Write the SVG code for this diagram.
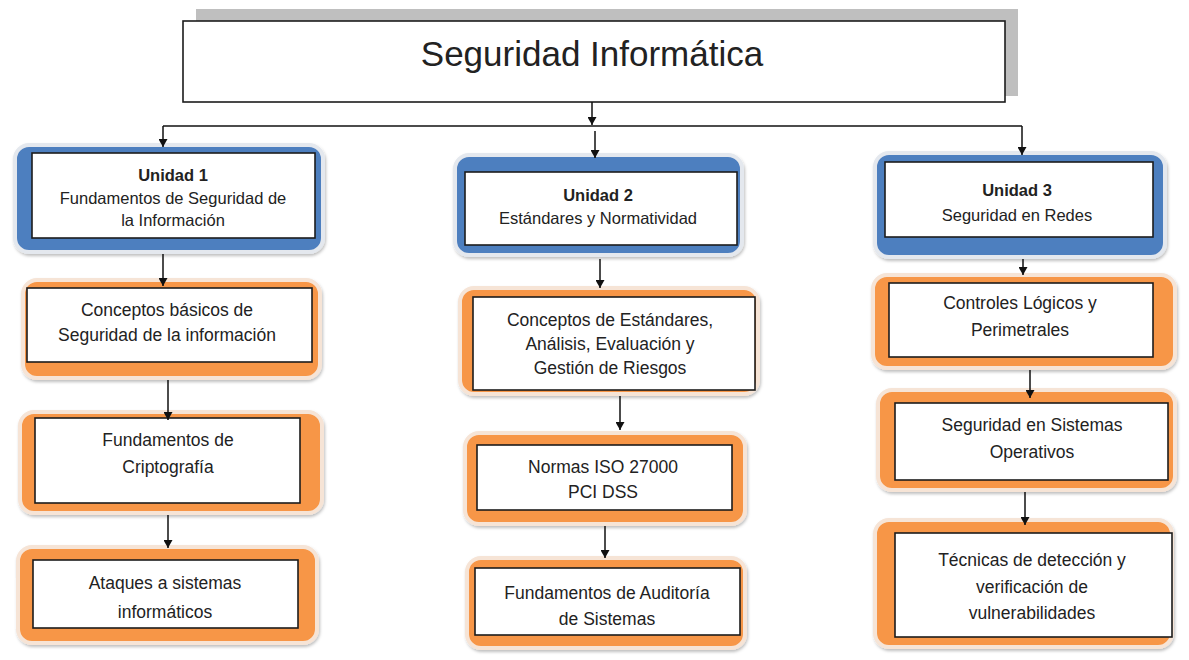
<svg xmlns="http://www.w3.org/2000/svg" width="1189" height="660" viewBox="0 0 1189 660">
<defs>
<marker id="arr" markerWidth="9" markerHeight="9" refX="8" refY="4.5" orient="auto" markerUnits="userSpaceOnUse"><path d="M0,0 L8,4.5 L0,9 z" fill="#111"/></marker>
<filter id="sh" x="-5%" y="-5%" width="110%" height="115%"><feDropShadow dx="1" dy="2" stdDeviation="1.5" flood-color="#000" flood-opacity="0.25"/></filter>
</defs>
<style>
.blue{fill:#4e7fbf;stroke:#e4e8ee;stroke-width:4;filter:url(#sh)}
.orange{fill:#f79646;stroke:#f6e4d6;stroke-width:4;filter:url(#sh)}
.inner{fill:#fff;stroke:#1c1c1c;stroke-width:1.6}
.t{font-family:"Liberation Sans",Arial,sans-serif;font-size:17.5px;fill:#222;text-anchor:middle}
.s{font-size:16.5px}
.b{font-weight:bold;font-size:16.5px}
.c{stroke:#111;stroke-width:1.5;fill:none}
</style>
<rect width="1189" height="660" fill="#fff"/>
<g id="title">
<rect x="196" y="9" width="822" height="87" fill="#bfbfbf"/>
<rect x="183" y="21" width="822" height="81" fill="#fff" stroke="#1c1c1c" stroke-width="1.6"/>
<text class="t" x="592" y="66" style="font-size:35px">Seguridad Informática</text>
</g>
<g id="unidad1">
<rect class="blue" x="15" y="145" width="308" height="107" rx="14"/>
<rect class="inner" x="32" y="153" width="283" height="85"/>
<text class="t b" x="173" y="181">Unidad 1</text>
<text class="t s" x="173" y="204">Fundamentos de Seguridad de</text>
<text class="t s" x="173" y="226">la Información</text>
</g>
<g id="conceptos-basicos">
<rect class="orange" x="23" y="280" width="297" height="98" rx="14"/>
<rect class="inner" x="27" y="288" width="285" height="74"/>
<text class="t" x="167" y="316">Conceptos básicos  de</text>
<text class="t" x="167" y="341">Seguridad de la información</text>
</g>
<g id="criptografia">
<rect class="orange" x="20" y="412" width="302" height="101" rx="14"/>
<rect class="inner" x="35" y="418" width="265" height="85"/>
<text class="t" x="168" y="446">Fundamentos de</text>
<text class="t" x="168" y="473">Criptografía</text>
</g>
<g id="ataques">
<rect class="orange" x="18" y="547" width="299" height="96" rx="14"/>
<rect class="inner" x="33" y="560" width="265" height="68"/>
<text class="t" x="165" y="589">Ataques a sistemas</text>
<text class="t" x="165" y="618">informáticos</text>
</g>
<g id="unidad2">
<rect class="blue" x="455" y="155" width="287" height="100" rx="14"/>
<rect class="inner" x="465" y="172" width="272" height="73"/>
<text class="t b" x="598" y="201">Unidad 2</text>
<text class="t s" x="598" y="224">Estándares y Normatividad</text>
</g>
<g id="conceptos-estandares">
<rect class="orange" x="460" y="288" width="298" height="106" rx="14"/>
<rect class="inner" x="473" y="297" width="282" height="93"/>
<text class="t" x="610" y="326">Conceptos de Estándares,</text>
<text class="t" x="610" y="350">Análisis, Evaluación y</text>
<text class="t" x="610" y="374">Gestión de Riesgos</text>
</g>
<g id="normas-iso">
<rect class="orange" x="465" y="433" width="280" height="91" rx="14"/>
<rect class="inner" x="477" y="445" width="255" height="65"/>
<text class="t" x="603" y="473">Normas ISO 27000</text>
<text class="t" x="603" y="498">PCI DSS</text>
</g>
<g id="auditoria">
<rect class="orange" x="467" y="558" width="278" height="90" rx="14"/>
<rect class="inner" x="475" y="568" width="265" height="67"/>
<text class="t" x="607" y="599">Fundamentos de Auditoría</text>
<text class="t" x="607" y="625">de Sistemas</text>
</g>
<g id="unidad3">
<rect class="blue" x="875" y="153" width="290" height="104" rx="14"/>
<rect class="inner" x="885" y="162" width="268" height="75"/>
<text class="t b" x="1017" y="196">Unidad 3</text>
<text class="t s" x="1017" y="221">Seguridad en Redes</text>
</g>
<g id="controles">
<rect class="orange" x="873" y="275" width="302" height="93" rx="14"/>
<rect class="inner" x="889" y="283" width="264" height="74"/>
<text class="t" x="1020" y="309">Controles Lógicos y</text>
<text class="t" x="1020" y="336">Perimetrales</text>
</g>
<g id="seguridad-so">
<rect class="orange" x="878" y="390" width="297" height="100" rx="14"/>
<rect class="inner" x="895" y="403" width="273" height="77"/>
<text class="t" x="1032" y="431">Seguridad en Sistemas</text>
<text class="t" x="1032" y="458">Operativos</text>
</g>
<g id="tecnicas">
<rect class="orange" x="875" y="520" width="297" height="127" rx="14"/>
<rect class="inner" x="895" y="533" width="277" height="104"/>
<text class="t" x="1032" y="566">Técnicas de detección y</text>
<text class="t" x="1032" y="593">verificación de</text>
<text class="t" x="1032" y="619">vulnerabilidades</text>
</g>
<g id="connectors">
<line class="c" x1="592" y1="102" x2="592" y2="125" marker-end="url(#arr)"/>
<line class="c" x1="163" y1="126" x2="1022" y2="126"/>
<line class="c" x1="163" y1="126" x2="163" y2="147" marker-end="url(#arr)"/>
<line class="c" x1="595" y1="131" x2="595" y2="158" marker-end="url(#arr)"/>
<line class="c" x1="1022" y1="126" x2="1022" y2="155" marker-end="url(#arr)"/>
<line class="c" x1="163" y1="254" x2="163" y2="286" marker-end="url(#arr)"/>
<line class="c" x1="168" y1="380" x2="168" y2="420" marker-end="url(#arr)"/>
<line class="c" x1="168" y1="515" x2="168" y2="548" marker-end="url(#arr)"/>
<line class="c" x1="600" y1="259" x2="600" y2="288" marker-end="url(#arr)"/>
<line class="c" x1="620" y1="396" x2="620" y2="430" marker-end="url(#arr)"/>
<line class="c" x1="605" y1="526" x2="605" y2="558" marker-end="url(#arr)"/>
<line class="c" x1="1023" y1="259" x2="1023" y2="275" marker-end="url(#arr)"/>
<line class="c" x1="1030" y1="370" x2="1030" y2="398" marker-end="url(#arr)"/>
<line class="c" x1="1025" y1="492" x2="1025" y2="525" marker-end="url(#arr)"/>
</g>
</svg>
